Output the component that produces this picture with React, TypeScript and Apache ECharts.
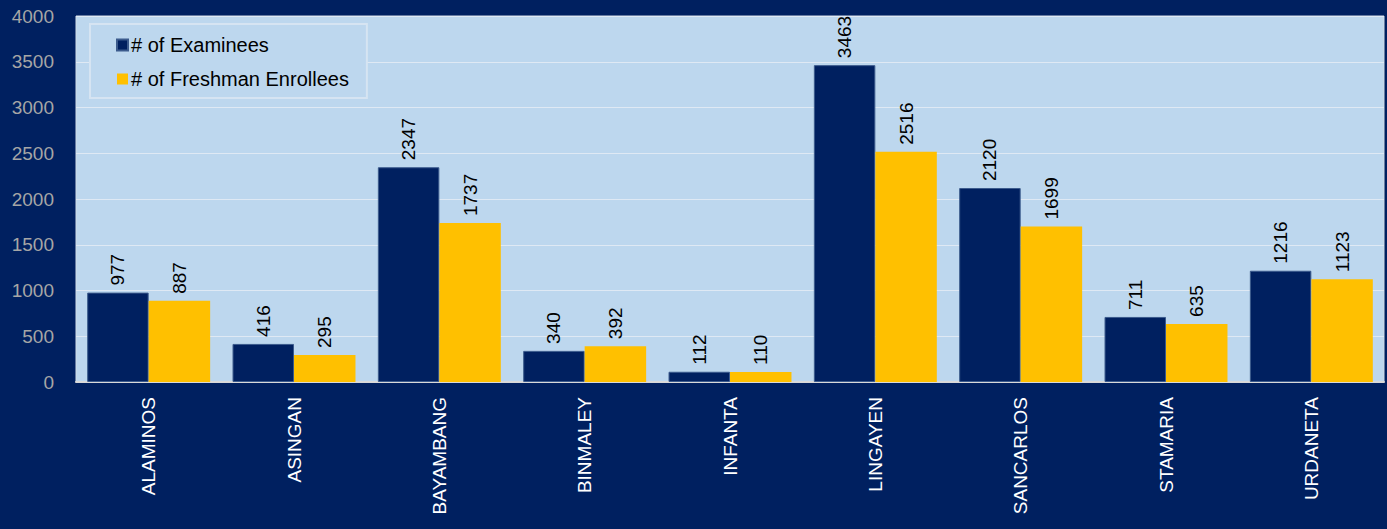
import React, { useEffect, useRef } from "react";
import * as echarts from "echarts";

const categories = ["ALAMINOS", "ASINGAN", "BAYAMBANG", "BINMALEY", "INFANTA", "LINGAYEN", "SANCARLOS", "STAMARIA", "URDANETA"];
const examinees = [977, 416, 2347, 340, 112, 3463, 2120, 711, 1216];
const enrollees = [887, 295, 1737, 392, 110, 2516, 1699, 635, 1123];
const seriesNames = ["# of Examinees", "# of Freshman Enrollees"];

const FONT = "'Liberation Sans', Arial, sans-serif";

export default function App() {
  const ref = useRef<HTMLDivElement>(null);
  useEffect(() => {
    if (!ref.current) return;
    const chart = echarts.init(ref.current, null, { renderer: "svg" });
    const label = {
      show: true,
      position: "top",
      rotate: 90,
      align: "left",
      verticalAlign: "middle",
      distance: 7,
      color: "#000000",
      fontFamily: FONT,
      fontSize: 19,
    };
    chart.setOption({
      animation: false,
      backgroundColor: "#002060",
      grid: {
        left: 76,
        right: 3,
        top: 16,
        bottom: 147,
        outerBoundsMode: "none",
        containLabel: false,
        show: true,
        backgroundColor: "#bdd7ee",
        borderColor: "#d0dbe6",
        borderWidth: 1,
      },
      legend: {
        orient: "vertical",
        left: 90,
        top: 24,
        data: seriesNames,
        icon: "rect",
        itemWidth: 11,
        itemHeight: 11,
        itemGap: 14,
        padding: [11, 18, 9, 26],
        backgroundColor: "#bdd7ee",
        borderColor: "#d6e4f2",
        borderWidth: 2,
        textStyle: { color: "#000000", fontFamily: FONT, fontSize: 20, padding: [0, 0, 0, -2] },
      },
      xAxis: {
        type: "category",
        data: categories,
        axisLine: { show: true, lineStyle: { color: "#d9d9d9", width: 2 } },
        axisTick: { show: false },
        axisLabel: {
          rotate: 90,
          color: "#ffffff",
          fontFamily: FONT,
          fontSize: 19,
          margin: 15,
          interval: 0,
        },
      },
      yAxis: {
        type: "value",
        min: 0,
        max: 4000,
        interval: 500,
        axisLine: { show: false },
        axisTick: { show: false },
        axisLabel: {
          color: "#a6a6a6",
          fontFamily: FONT,
          fontSize: 19,
          margin: 22,
          formatter: (v: number) => String(v),
        },
        splitLine: { show: true, lineStyle: { color: "#dfe9f4", width: 1 } },
      },
      series: [
        {
          name: seriesNames[0],
          type: "bar",
          data: examinees,
          barGap: "0%",
          barCategoryGap: "15.4%",
          itemStyle: { color: "#002060", borderColor: "#3b5a8c", borderWidth: 1 },
          label,
        },
        {
          name: seriesNames[1],
          type: "bar",
          data: enrollees,
          itemStyle: { color: "#ffc000" },
          label,
        },
      ],
    });
    return () => chart.dispose();
  }, []);
  return (
    <div
      ref={ref}
      style={{ position: "fixed", left: 0, top: 0, width: 1387, height: 529 }}
    />
  );
}
